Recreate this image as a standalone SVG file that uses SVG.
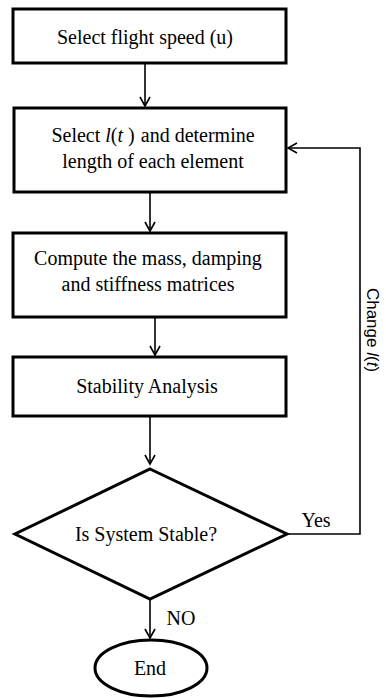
<svg xmlns="http://www.w3.org/2000/svg" width="386" height="698" viewBox="0 0 386 698">
<style>
.box{fill:#fff;stroke:#000;stroke-width:3}
.t{font-family:"Liberation Serif","Times New Roman",serif;font-size:20px;fill:#000;text-anchor:middle}
.s{font-family:"Liberation Sans",Arial,sans-serif;font-size:17px;fill:#000;text-anchor:middle}
.c{fill:none;stroke:#000;stroke-width:1.6}
.i{font-style:italic}
</style>
<defs>
<marker id="a" markerWidth="12" markerHeight="12" refX="10" refY="6" orient="auto" markerUnits="userSpaceOnUse">
<path d="M1,1 L10,6 L1,11" fill="none" stroke="#000" stroke-width="1.6"/>
</marker>
</defs>
<rect width="386" height="698" fill="#fff"/>
<g id="n1"><rect class="box" x="13" y="9" width="273" height="54"/><text class="t" x="145" y="44">Select flight speed (u)</text></g>
<g id="n2"><rect class="box" x="14" y="108" width="272" height="84"/>
<text class="t" x="153" y="142">Select <tspan class="i">l</tspan>(<tspan class="i">t</tspan> )<tspan dx="6">and determine</tspan></text>
<text class="t" x="153" y="168">length of each element</text></g>
<g id="n3"><rect class="box" x="13" y="233" width="273" height="84"/>
<text class="t" x="148" y="265">Compute the mass, damping</text>
<text class="t" x="148" y="291">and stiffness matrices</text></g>
<g id="n4"><rect class="box" x="13" y="357" width="273" height="59"/><text class="t" x="147" y="393">Stability Analysis</text></g>
<g id="n5"><polygon class="box" points="150,469 287,534 150,599 15,534"/><text class="t" x="146" y="541">Is System Stable?</text></g>
<g id="n6"><ellipse class="box" cx="151" cy="668" rx="56" ry="28"/><text class="t" x="150" y="675">End</text></g>
<g id="connectors">
<line class="c" x1="145" y1="63" x2="145" y2="106" marker-end="url(#a)"/>
<line class="c" x1="150" y1="192" x2="150" y2="231" marker-end="url(#a)"/>
<line class="c" x1="155" y1="317" x2="155" y2="355" marker-end="url(#a)"/>
<line class="c" x1="150" y1="416" x2="150" y2="464" marker-end="url(#a)"/>
<line class="c" x1="150" y1="599" x2="150" y2="638" marker-end="url(#a)"/>
<polyline class="c" points="287,534 360,534 360,148 288,148" marker-end="url(#a)"/>
<text class="t" x="316" y="527">Yes</text>
<text class="t" x="181" y="625">NO</text>
<text class="s" transform="translate(367,330) rotate(90)">Change <tspan class="i">l</tspan>(<tspan class="i">t</tspan>)</text>
</g>
</svg>
